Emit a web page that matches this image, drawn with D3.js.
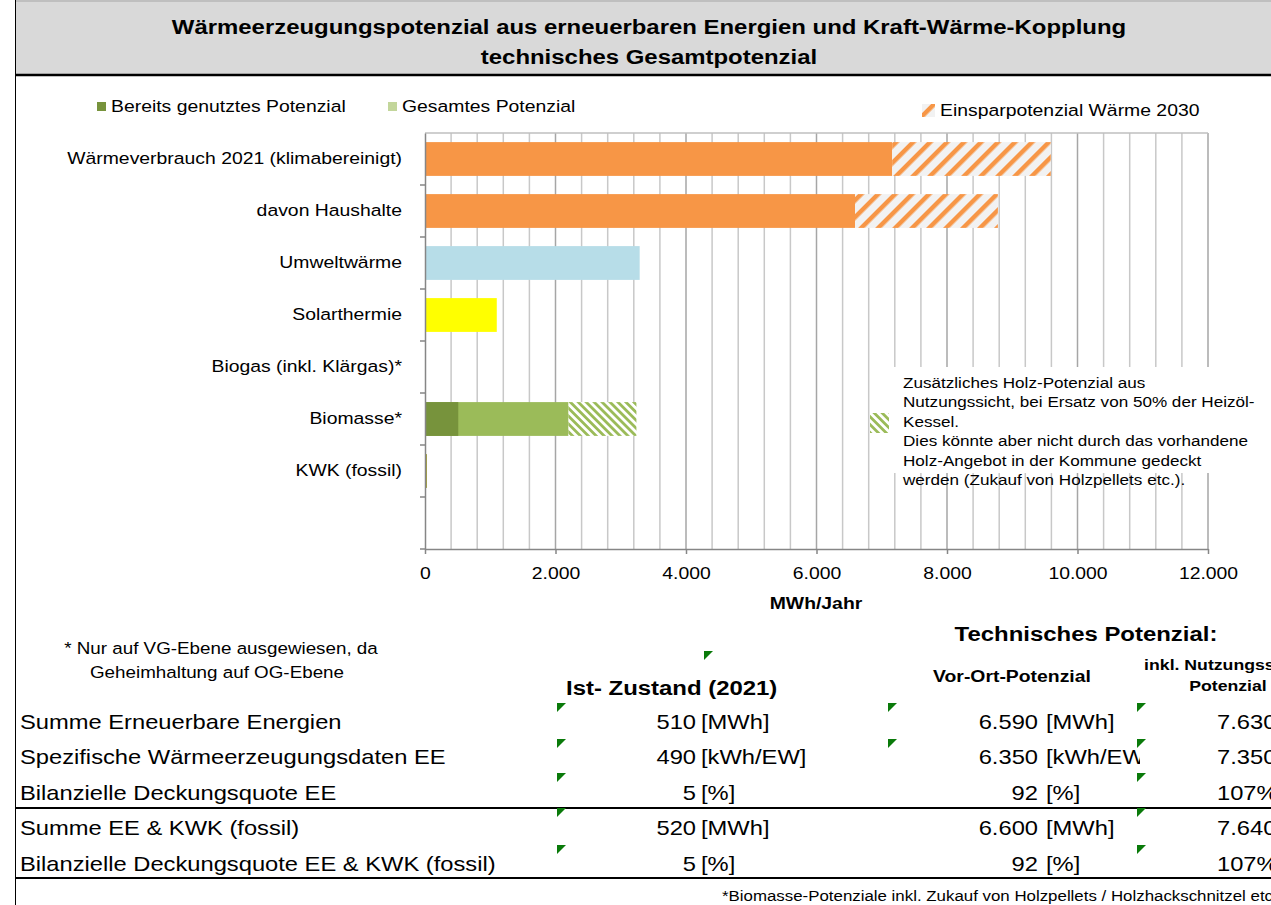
<!DOCTYPE html>
<html>
<head>
<meta charset="utf-8">
<script src="https://cdn.jsdelivr.net/npm/d3@7"></script>
<style>
  body { margin: 0; background: #fff; }
  svg { font-family: "Liberation Sans", Arial, sans-serif; display: block; }
</style>
</head>
<body>
<svg id="chart"></svg>
<script>
// chart data
const categories = [
  "Wärmeverbrauch 2021 (klimabereinigt)",
  "davon Haushalte ",
  "Umweltwärme",
  "Solarthermie",
  "Biogas (inkl. Klärgas)*",
  "Biomasse*",
  "KWK (fossil)",
  " "
];
const usedValues = [0, 0, 0, 0, 0, 510, 0, 0];            // bereits genutzt
const totalValues = [7160, 6590, 3290, 1100, 0, 2200, 10, 0]; // Gesamtes Potenzial / Verbrauch
const extraValues = [2430, 2190, 0, 0, 0, 1040, 0, 0];     // schraffierter Anteil
const xTicks = [0, 2000, 4000, 6000, 8000, 10000, 12000];

const tableRows = [
  "Summe Erneuerbare Energien",
  "Spezifische Wärmeerzeugungsdaten EE",
  "Bilanzielle Deckungsquote EE",
  "Summe EE & KWK (fossil)",
  "Bilanzielle Deckungsquote EE & KWK (fossil)"
];
const istValues = ["510", "490", "5", "520", "5"];
const vorOrtValues = ["6.590", "6.350", "92", "6.600", "92"];
const units = ["[MWh]", "[kWh/EW]", "[%]", "[MWh]", "[%]"];
const nutzungValues = ["7.630", "7.350", "107%", "7.640", "107%"];

const annotationLines = [
  "Zusätzliches Holz-Potenzial aus",
  "Nutzungssicht, bei Ersatz von 50% der Heizöl-",
  "Kessel.",
  "Dies könnte aber nicht durch das vorhandene",
  "Holz-Angebot in der Kommune gedeckt",
  "werden (Zukauf von Holzpellets etc.)."
];

// the source screenshot is slightly stretched horizontally
const S = 1.14;

DrawChart();

function DrawChart() {
  const width = 1271;
  const height = 905;
  const plot = { left: 425, right: 1208, top: 133, bottom: 549 };

  const colorFor = {
    "Wärmeverbrauch 2021 (klimabereinigt)": "#f79646",
    "davon Haushalte ": "#f79646",
    "Umweltwärme": "#b7dde8",
    "Solarthermie": "#ffff00",
    "Biogas (inkl. Klärgas)*": "#9bbb59",
    "Biomasse*": "#9bbb59",
    "KWK (fossil)": "#a6a23c",
    " ": "#ffffff"
  };
  const hatchFor = {
    "Wärmeverbrauch 2021 (klimabereinigt)": "url(#hatchOrange)",
    "davon Haushalte ": "url(#hatchOrange)",
    "Biomasse*": "url(#hatchGreen)"
  };

  const svg = d3.select("#chart").attr("width", width).attr("height", height);

  // helper for stretched text
  function addText(parent, x, y, str, size, bold, anchor) {
    return parent.append("text")
      .attr("x", x / S).attr("y", y)
      .attr("transform", `scale(${S},1)`)
      .attr("text-anchor", anchor || "start")
      .style("font-size", size + "px")
      .style("font-weight", bold ? "bold" : "normal")
      .text(str);
  }

  // patterns
  const defs = svg.append("defs");
  const po = defs.append("pattern")
    .attr("id", "hatchOrange")
    .attr("patternUnits", "userSpaceOnUse")
    .attr("width", 12).attr("height", 12)
    .attr("patternTransform", "rotate(45)");
  po.append("rect").attr("width", 12).attr("height", 12).attr("fill", "#f2f2f2");
  po.append("rect").attr("x", 0).attr("width", 4.5).attr("height", 12).attr("fill", "#f79646");

  const pg = defs.append("pattern")
    .attr("id", "hatchGreen")
    .attr("patternUnits", "userSpaceOnUse")
    .attr("width", 5.6).attr("height", 5.6)
    .attr("patternTransform", "rotate(-45)");
  pg.append("rect").attr("width", 5.6).attr("height", 5.6).attr("fill", "#ffffff");
  pg.append("rect").attr("width", 2.8).attr("height", 5.6).attr("fill", "#9bbb59");

  defs.append("clipPath").attr("id", "clipCol2")
    .append("rect").attr("x", 900).attr("y", 690).attr("width", 240).attr("height", 200);

  // title box
  svg.append("rect")
    .attr("x", 15).attr("y", 0).attr("width", width - 15).attr("height", 75)
    .attr("fill", "#d9d9d9");
  svg.append("line")
    .attr("x1", 15).attr("x2", width).attr("y1", 1).attr("y2", 1)
    .attr("stroke", "#bfbfbf").attr("stroke-width", 2);
  svg.append("line")
    .attr("x1", 15).attr("x2", width).attr("y1", 75).attr("y2", 75)
    .attr("stroke", "#000").attr("stroke-width", 2.5);
  svg.append("line")
    .attr("x1", 15.5).attr("x2", 15.5).attr("y1", 0).attr("y2", height)
    .attr("stroke", "#000").attr("stroke-width", 1);

  addText(svg, 649, 34, "Wärmeerzeugungspotenzial aus erneuerbaren Energien und Kraft-Wärme-Kopplung", 21, true, "middle");
  addText(svg, 649, 64, "technisches Gesamtpotenzial", 21, true, "middle");

  // scales
  const xScale = d3.scaleLinear().domain([0, 12000]).range([plot.left, plot.right]);
  const yScale = d3.scaleBand()
    .domain(categories)
    .range([plot.top, plot.bottom])
    .paddingInner(0.35)
    .paddingOuter(0.175);

  // gridlines
  const minorTicks = d3.range(400, 12001, 400);
  svg.append("g")
    .selectAll("line")
    .data(minorTicks)
    .enter()
    .append("line")
    .attr("x1", (d) => xScale(d)).attr("x2", (d) => xScale(d))
    .attr("y1", plot.top).attr("y2", plot.bottom)
    .attr("stroke", (d) => (d % 2000 === 0 ? "#a6a6a6" : "#c8c8c8"))
    .attr("stroke-width", 1.5);
  svg.append("line")
    .attr("x1", plot.left).attr("x2", plot.right)
    .attr("y1", plot.top).attr("y2", plot.top)
    .attr("stroke", "#bfbfbf").attr("stroke-width", 1.5);

  // bars
  const barData = categories.map((c, i) => ({
    cat: c, used: usedValues[i], total: totalValues[i], extra: extraValues[i]
  }));

  svg.append("g")
    .selectAll("rect")
    .data(barData.filter((d) => d.total > 0))
    .enter()
    .append("rect")
    .attr("x", xScale(0))
    .attr("y", (d) => yScale(d.cat))
    .attr("width", (d) => Math.max(2, xScale(d.total) - xScale(0)))
    .attr("height", yScale.bandwidth())
    .attr("fill", (d) => colorFor[d.cat]);

  svg.append("g")
    .selectAll("rect")
    .data(barData.filter((d) => d.used > 0))
    .enter()
    .append("rect")
    .attr("x", xScale(0))
    .attr("y", (d) => yScale(d.cat))
    .attr("width", (d) => xScale(d.used) - xScale(0))
    .attr("height", yScale.bandwidth())
    .attr("fill", "#77933c");

  svg.append("g")
    .selectAll("rect")
    .data(barData.filter((d) => d.extra > 0))
    .enter()
    .append("rect")
    .attr("x", (d) => xScale(d.total))
    .attr("y", (d) => yScale(d.cat))
    .attr("width", (d) => xScale(d.total + d.extra) - xScale(d.total))
    .attr("height", yScale.bandwidth())
    .attr("fill", (d) => hatchFor[d.cat]);

  // x axis
  const xAxis = d3.axisBottom(xScale)
    .tickValues(xTicks)
    .tickSize(5)
    .tickSizeOuter(0)
    .tickFormat((d) => d3.format(",")(d).replace(/,/g, "."));
  const xg = svg.append("g")
    .attr("transform", `translate(0,${plot.bottom})`)
    .call(xAxis);
  xg.select(".domain").attr("stroke", "#868686").attr("stroke-width", 1.5);
  xg.selectAll(".tick line").attr("stroke", "#868686").attr("stroke-width", 1.5);
  xg.selectAll(".tick text")
    .attr("dy", 0).attr("y", 30)
    .attr("transform", `scale(${S},1)`)
    .style("font-size", "17px")
    .style("font-family", "Liberation Sans, Arial, sans-serif")
    .attr("fill", "#000");

  // y axis
  const yAxis = d3.axisLeft(yScale).tickSize(0).tickSizeOuter(0).tickPadding(23 / S);
  const yg = svg.append("g")
    .attr("transform", `translate(${plot.left},0)`)
    .call(yAxis);
  yg.select(".domain").attr("stroke", "#868686").attr("stroke-width", 1.5);
  yg.selectAll(".tick text")
    .attr("transform", `scale(${S},1)`)
    .style("font-size", "17px")
    .style("font-family", "Liberation Sans, Arial, sans-serif")
    .attr("fill", "#000");
  // band boundary tick marks on the y axis
  svg.append("g")
    .selectAll("line")
    .data(categories)
    .enter()
    .append("line")
    .attr("x1", plot.left - 5).attr("x2", plot.left)
    .attr("y1", (d) => yScale(d) + yScale.bandwidth() + yScale.step() * 0.175)
    .attr("y2", (d) => yScale(d) + yScale.bandwidth() + yScale.step() * 0.175)
    .attr("stroke", "#868686").attr("stroke-width", 1.5);

  addText(svg, 816, 609, "MWh/Jahr", 17, true, "middle");

  // legend
  const legendItems = [
    { label: "Bereits genutztes Potenzial", fill: "#77933c", x: 97, y: 102, size: 9 },
    { label: "Gesamtes Potenzial", fill: "#c3d69b", x: 388, y: 102, size: 9 },
    { label: "Einsparpotenzial  Wärme 2030", fill: "url(#hatchOrange)", x: 922, y: 104, size: 13 }
  ];
  const legend = svg.append("g").attr("class", "legend");
  legend.selectAll("rect")
    .data(legendItems)
    .enter()
    .append("rect")
    .attr("x", (d) => d.x).attr("y", (d) => d.y)
    .attr("width", (d) => d.size).attr("height", (d) => d.size)
    .attr("fill", (d) => d.fill);
  legendItems.forEach((d) => {
    addText(legend, d.x + d.size + 5, d.y + d.size / 2, d.label, 17, false).attr("dy", "0.35em");
  });

  // annotation box
  svg.append("rect")
    .attr("x", 893).attr("y", 367).attr("width", 362).attr("height", 106)
    .attr("fill", "#fff");
  svg.append("rect")
    .attr("x", 870).attr("y", 413).attr("width", 19).attr("height", 20)
    .attr("fill", "url(#hatchGreen)");
  const ann = svg.append("g");
  annotationLines.forEach((line, i) => {
    addText(ann, 903, 388 + i * 19.4, line, 15, false);
  });

  // notes under chart
  addText(svg, 221, 654, "* Nur auf VG-Ebene ausgewiesen, da", 16.5, false, "middle");
  addText(svg, 217, 678, "Geheimhaltung auf OG-Ebene", 16.5, false, "middle");

  addText(svg, 1086, 641, "Technisches Potenzial:", 21, true, "middle");
  addText(svg, 1012, 682, "Vor-Ort-Potenzial", 17, true, "middle");
  addText(svg, 1228, 670, "inkl. Nutzungssicht-", 15.5, true, "middle");
  addText(svg, 1228, 691, "Potenzial", 15.5, true, "middle");
  addText(svg, 566, 695, "Ist- Zustand (2021)", 21, true);

  // table
  const rowY = d3.scalePoint().domain(d3.range(tableRows.length)).range([729, 871]);
  const table = svg.append("g");
  tableRows.forEach((label, i) => {
    addText(table, 20, rowY(i), label, 20.8, false);
    addText(table, 696, rowY(i), istValues[i], 20.8, false, "end");
    addText(table, 701, rowY(i), units[i], 20.8, false);
    addText(table, 1217, rowY(i), nutzungValues[i], 20.8, false);
  });
  const col2 = table.append("g").attr("clip-path", "url(#clipCol2)");
  tableRows.forEach((label, i) => {
    addText(col2, 1038, rowY(i), vorOrtValues[i], 20.8, false, "end");
    addText(col2, 1046, rowY(i), units[i], 20.8, false);
  });

  svg.append("line")
    .attr("x1", 15).attr("x2", width).attr("y1", 808).attr("y2", 808)
    .attr("stroke", "#000").attr("stroke-width", 2);
  svg.append("line")
    .attr("x1", 15).attr("x2", width).attr("y1", 878).attr("y2", 878)
    .attr("stroke", "#000").attr("stroke-width", 2);

  // green cell markers
  const markers = [
    [704, 651],
    [557, 703], [557, 739], [557, 773], [557, 808], [557, 845],
    [888, 703], [888, 739],
    [1137, 703], [1137, 739], [1137, 773], [1137, 808], [1137, 845]
  ];
  svg.append("g")
    .selectAll("path")
    .data(markers)
    .enter()
    .append("path")
    .attr("d", (d) => `M${d[0]},${d[1]}h9l-9,9z`)
    .attr("fill", "#0a7a0a");

  addText(svg, 722, 901, "*Biomasse-Potenziale inkl. Zukauf von Holzpellets / Holzhackschnitzel etc.", 14.8, false);
}
</script>
</body>
</html>
